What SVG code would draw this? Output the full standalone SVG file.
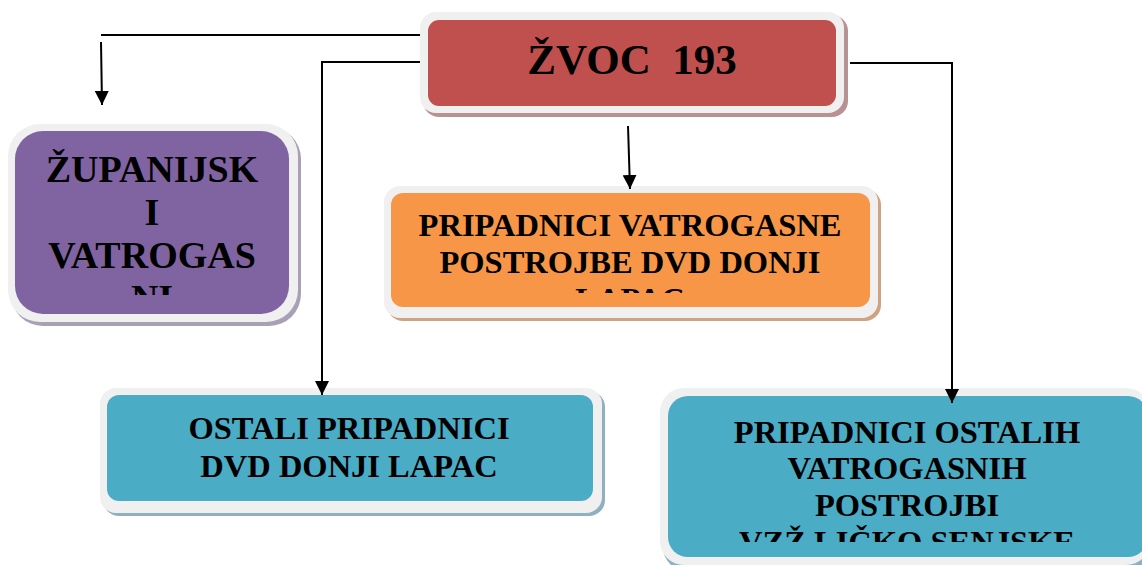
<svg xmlns="http://www.w3.org/2000/svg" width="1142" height="565" viewBox="0 0 1142 565">
<style>
.t{font-family:'Liberation Serif','Times New Roman',Times,serif;font-weight:700;fill:#000;text-anchor:middle}
.m{font-size:32.5px}
.p{font-size:38px}
.frame{fill:#f0f0f0}
.ln{fill:none;stroke:#000;stroke-width:2}
</style>
<defs>
<marker id="ah" viewBox="0 0 14 14" refX="14" refY="7" markerWidth="14" markerHeight="14" markerUnits="userSpaceOnUse" orient="auto">
<path d="M0,0 L14,7 L0,14 z" fill="#000"/>
</marker>
<clipPath id="cp1"><rect x="15" y="131" width="274" height="164"/></clipPath>
<clipPath id="cp2"><rect x="391" y="193" width="479" height="100"/></clipPath>
<clipPath id="cp3"><rect x="668" y="396" width="474" height="146"/></clipPath>
</defs>
<rect width="1142" height="565" fill="#fff"/>
<g id="n_zvoc">
<rect x="423" y="15" width="425" height="102" rx="16" fill="#b89292"/>
<rect class="frame" x="420" y="12" width="424" height="101" rx="16"/>
<rect x="428" y="20" width="408" height="86" rx="11" fill="#c0504d"/>
<text class="t" x="632" y="74" font-size="43" xml:space="preserve">ŽVOC  193</text>
</g>
<g id="n_zupanijski">
<rect x="11" y="127" width="290" height="199" rx="32" fill="#a8a0b4"/>
<rect class="frame" x="8" y="124" width="290" height="198" rx="32"/>
<rect x="15" y="131" width="274" height="183" rx="28" fill="#8064a2"/>
<g clip-path="url(#cp1)">
<text class="t p" x="152" y="182">ŽUPANIJSK</text>
<text class="t p" x="152" y="225">I</text>
<text class="t p" x="152" y="268">VATROGAS</text>
<text class="t p" x="152" y="311">NI</text>
</g>
</g>
<g id="n_pripadnici_vp">
<rect x="387" y="189" width="494" height="132" rx="16" fill="#d0a282"/>
<rect class="frame" x="384" y="186" width="494" height="132" rx="16"/>
<rect x="391" y="193" width="479" height="114" rx="12" fill="#f79646"/>
<g clip-path="url(#cp2)">
<text class="t m" x="630" y="236">PRIPADNICI VATROGASNE</text>
<text class="t m" x="630" y="273">POSTROJBE DVD DONJI</text>
<text class="t m" x="630" y="310">LAPAC</text>
</g>
</g>
<g id="n_ostali">
<rect x="103" y="391" width="502" height="125" rx="16" fill="#8fb0c0"/>
<rect class="frame" x="100" y="388" width="502" height="125" rx="16"/>
<rect x="107" y="395" width="486" height="106" rx="12" fill="#4bacc6"/>
<text class="t m" x="349" y="439">OSTALI PRIPADNICI</text>
<text class="t m" x="349" y="477">DVD DONJI LAPAC</text>
</g>
<g id="n_ostalih">
<rect x="663" y="391" width="490" height="180" rx="24" fill="#8fb0c0"/>
<rect class="frame" x="660" y="388" width="490" height="177" rx="24"/>
<rect x="668" y="396" width="480" height="161" rx="20" fill="#4bacc6"/>
<g clip-path="url(#cp3)">
<text class="t m" x="907" y="443">PRIPADNICI OSTALIH</text>
<text class="t m" x="907" y="479">VATROGASNIH</text>
<text class="t m" x="907" y="516">POSTROJBI</text>
<text class="t m" x="907" y="553">VZŽ LIČKO SENJSKE</text>
</g>
</g>
<g id="connectors">
<path class="ln" d="M420,35 L101,35"/>
<path class="ln" d="M101,42 L102,105" marker-end="url(#ah)"/>
<path class="ln" d="M420,62 L322,62 L322,395" marker-end="url(#ah)"/>
<path class="ln" d="M850,63 L952,63 L952,403" marker-end="url(#ah)"/>
<path class="ln" d="M628,126 L630,189" marker-end="url(#ah)"/>
</g>
</svg>
